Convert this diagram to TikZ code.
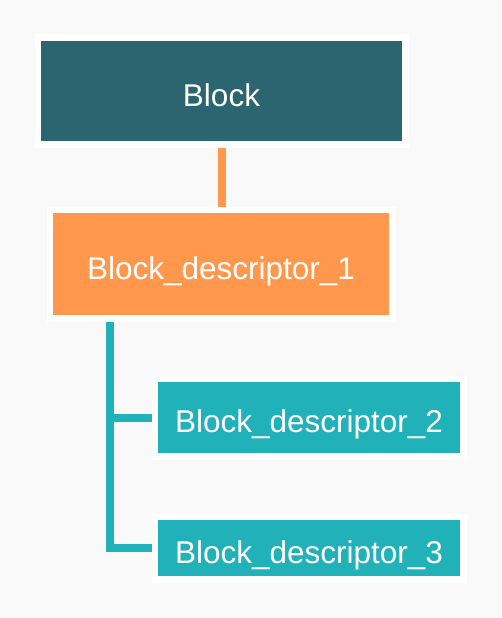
\documentclass[tikz,border=0pt]{standalone}
\usepackage{fontspec}
\setmainfont{Liberation Sans}
\usepackage{xcolor}
\definecolor{blkTeal}{HTML}{2B6670}
\definecolor{blkOrange}{HTML}{FF984C}
\definecolor{blkCyan}{HTML}{21B1B8}
\definecolor{blkBack}{HTML}{F9F9F9}
\usetikzlibrary{calc}

\tikzset{
  box/.style={draw=white, line width=6.5pt, inner sep=0pt, text=white,
    text height=30pt, text depth=0pt,
    font=\fontsize{31.5}{36}\selectfont},
  link/.style={line width=8pt}
}

\begin{document}
\begin{tikzpicture}[x=1pt, y=-1pt]
  % ------- canvas -------
  \fill[blkBack] (0,0) rectangle (501,618);
  \useasboundingbox (0,0) rectangle (501,618);
  % ------- boxes -------
  \node[box, fill=blkTeal, minimum width=367.5pt, minimum height=106.5pt]
    (block) at (221.5,91) {Block};
  \node[box, fill=blkOrange, minimum width=342.5pt, minimum height=108.5pt]
    (desc1) at (221,264) {Block\_descriptor\_1};
  \node[box, fill=blkCyan, minimum width=308.5pt, minimum height=77.5pt]
    (desc2) at (309,417.5) {Block\_descriptor\_2};
  \node[box, fill=blkCyan, minimum width=308.5pt, minimum height=62.5pt]
    (desc3) at (309,548) {Block\_descriptor\_3};
  % ------- links -------
  \coordinate (trunk) at (109.5,0);
  \draw[link, blkOrange] (block.south) -- (block.south |- desc1.north);
  \draw[link, blkCyan] (desc1.south -| trunk) |- (desc3.west);
  \draw[link, blkCyan] (trunk |- desc2.west) -- (desc2.west);
\end{tikzpicture}
\end{document}
